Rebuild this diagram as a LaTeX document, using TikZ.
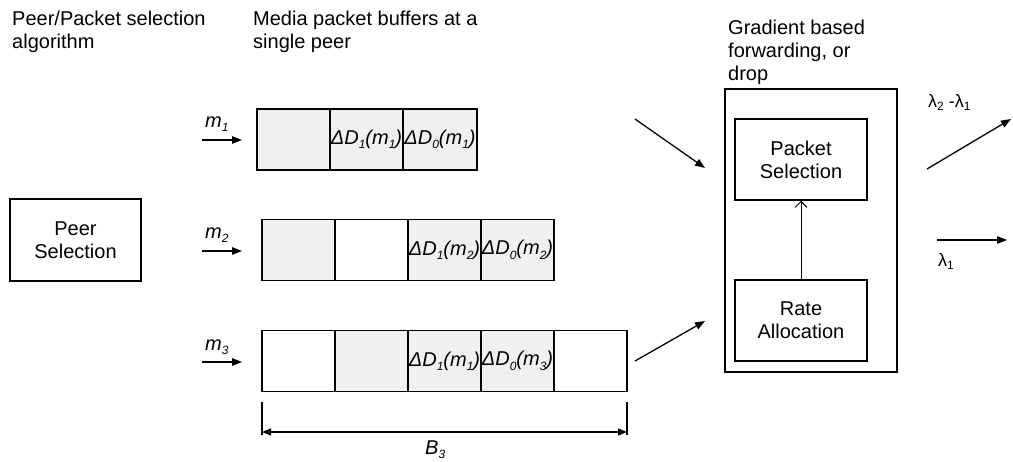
\documentclass[tikz,border=0pt]{standalone}
\usepackage{fontspec}
\setmainfont{Liberation Sans}
\usetikzlibrary{arrows.meta}
% small lowered index
\newcommand\sbs[1]{\raisebox{-0.22em}{\fontsize{12}{12}\selectfont #1}}
% delay-gradient label of one buffered packet
\newcommand\pktdelta[2]{ΔD\sbs{#1}(m\sbs{#2})}
\begin{document}
\begin{tikzpicture}[x=1pt, y=-1pt,
  every node/.style={font=\fontsize{20}{23}\selectfont},
  box/.style={draw, line width=1.5pt, inner sep=0pt, align=center},
  cell/.style={draw, line width=1.5pt, minimum width=73pt, minimum height=61pt,
    inner sep=0pt, font=\fontsize{20}{23}\selectfont\itshape},
  full/.style={cell, fill=black!6},
  empty/.style={cell, fill=white},
  heading/.style={anchor=north west, inner sep=0pt, align=left},
  flow/.style={line width=1.3pt, -{Triangle[length=10pt,width=7.5pt]}},
  dimtip/.style={line width=1.3pt, {Triangle[length=9pt,width=7pt]}-{Triangle[length=9pt,width=7pt]}},
]
\useasboundingbox (0,0) rectangle (1013,461);

% column headings
\node[heading] (hpeer) at (12,9.5) {\strut Peer/Packet selection\\algorithm};
\node[heading] (hbuf) at (253,9.5) {\strut Media packet buffers at a\\single peer};
\node[heading] (hfwd) at (728,18) {\strut Gradient based\\forwarding, or\\drop};

% peer selection
\node[box, minimum width=131pt, minimum height=82pt] (peer) at (75.5,240) {Peer\\Selection};

% buffer of stream m1
\node[full] (a1) at (293.5,139.5) {};
\node[full] (a2) at (366.5,139.5) {\pktdelta{1}{1}};
\node[full, minimum width=74pt] (a3) at (440,139.5) {\pktdelta{0}{1}};

% buffer of stream m2
\node[full]  (b1) at (298.5,250) {};
\node[empty] (b2) at (371.5,250) {};
\node[full]  (b3) at (444.5,250) {\pktdelta{1}{2}};
\node[full]  (b4) at (517.5,250) {\pktdelta{0}{2}};

% buffer of stream m3
\node[empty] (c1) at (298.5,361) {};
\node[full]  (c2) at (371.5,361) {};
\node[full]  (c3) at (444.5,361) {\pktdelta{1}{1}};
\node[full]  (c4) at (517.5,361) {\pktdelta{0}{3}};
\node[empty] (c5) at (590.5,361) {};

% incoming streams
\coordinate (m1s) at (202,140); \coordinate (m1e) at (242,140);
\coordinate (m2s) at (202,251); \coordinate (m2e) at (242,251);
\coordinate (m3s) at (202,362); \coordinate (m3e) at (242,362);
\draw[flow] (m1s) -- (m1e);
\draw[flow] (m2s) -- (m2e);
\draw[flow] (m3s) -- (m3e);
\node[anchor=base west, inner sep=0pt] (lm1) at (205,127) {\itshape m\sbs{1}};
\node[anchor=base west, inner sep=0pt] (lm2) at (205,238) {\itshape m\sbs{2}};
\node[anchor=base west, inner sep=0pt] (lm3) at (205,350) {\itshape m\sbs{3}};

% buffer length B3
\coordinate (t1a) at (262,402); \coordinate (t1b) at (262,435);
\coordinate (t2a) at (627,402); \coordinate (t2b) at (627,435);
\coordinate (d1) at (262,432); \coordinate (d2) at (627,432);
\draw[line width=1.3pt] (t1a) -- (t1b);
\draw[line width=1.3pt] (t2a) -- (t2b);
\draw[dimtip] (d1) -- (d2);
\node[anchor=base west, inner sep=0pt] (lb3) at (425,454) {\itshape B\sbs{3}};

% forwarding unit
\node[box, minimum width=172pt, minimum height=283pt] (fwd) at (811,230.5) {};
\node[box, minimum width=132pt, minimum height=81pt] (pkt) at (801,159.5) {Packet\\Selection};
\node[box, minimum width=132pt, minimum height=81pt] (rate) at (801,320.5) {Rate\\Allocation};
\draw[line width=1pt, -{Straight Barb[length=6pt,width=12pt]}] (rate) -- (pkt);

% flows into the forwarding unit
\coordinate (i1s) at (635,119); \coordinate (i1e) at (705,168);
\coordinate (i2s) at (635,361); \coordinate (i2e) at (705,321);
\draw[flow] (i1s) -- (i1e);
\draw[flow] (i2s) -- (i2e);

% forwarded flows
\coordinate (o1s) at (927,169); \coordinate (o1e) at (1011,119);
\coordinate (o2s) at (937,240); \coordinate (o2e) at (1007,240);
\draw[flow] (o1s) -- (o1e);
\draw[flow] (o2s) -- (o2e);
\node[anchor=base west, inner sep=0pt, font=\fontsize{18}{21}\selectfont] (l21) at (928,107) {λ\sbs{2} -λ\sbs{1}};
\node[anchor=base west, inner sep=0pt, font=\fontsize{18}{21}\selectfont] (l1) at (938,266) {λ\sbs{1}};
\end{tikzpicture}
\end{document}
